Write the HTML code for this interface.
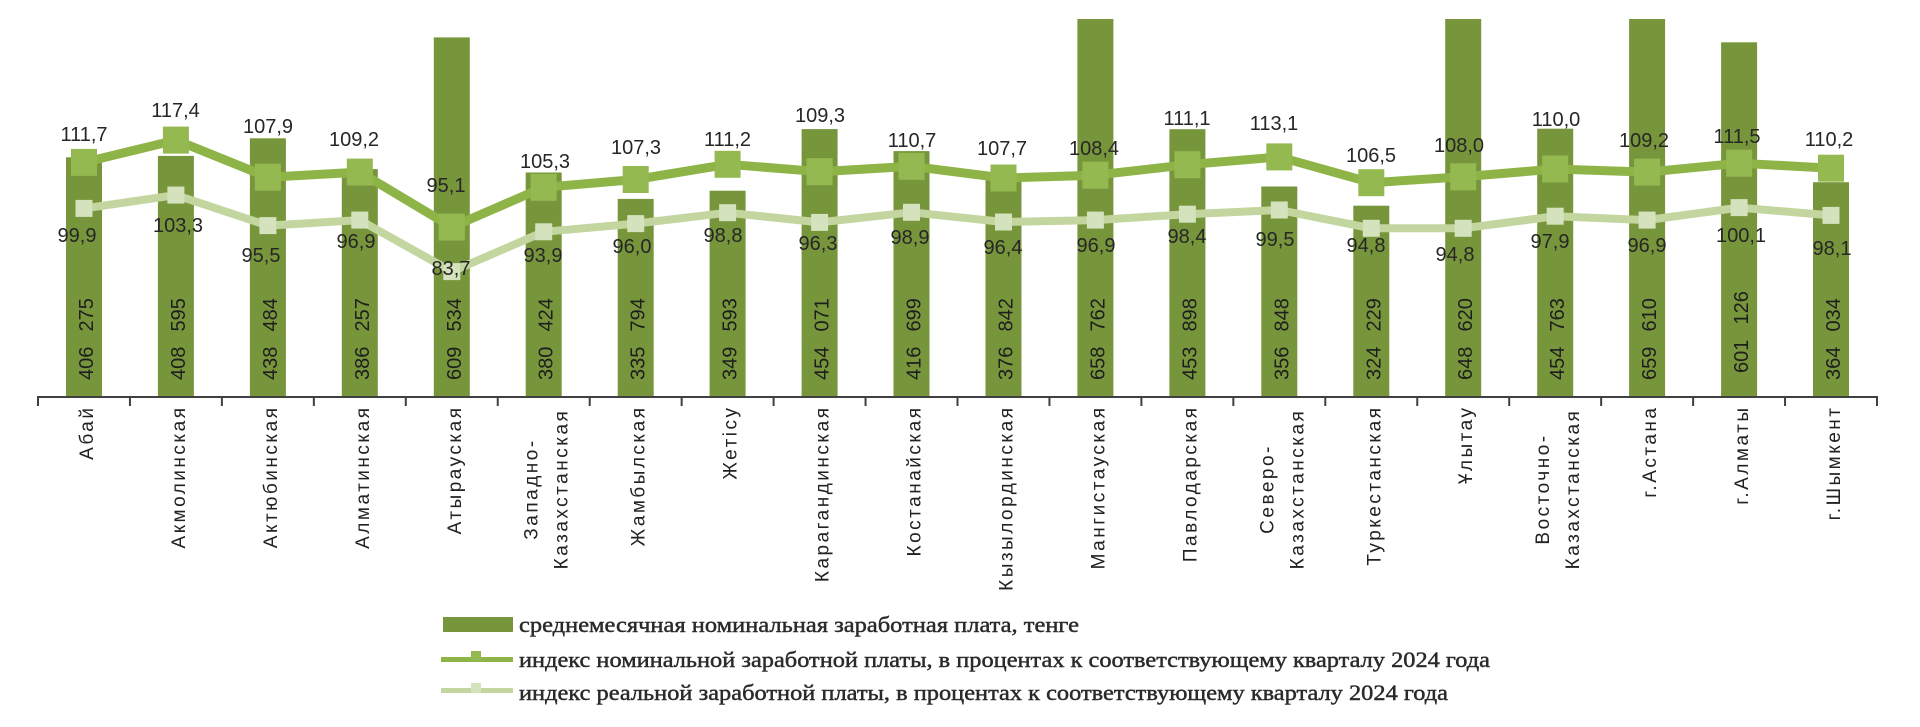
<!DOCTYPE html>
<html>
<head>
<meta charset="utf-8">
<style>
html,body{margin:0;padding:0;background:#fff;}
svg{display:block;}
.dl{font-family:"Liberation Sans",sans-serif;font-size:20px;fill:#262626;text-anchor:middle;}
.bl{font-family:"Liberation Sans",sans-serif;font-size:20px;fill:#1e1e1e;}
.xl{font-family:"Liberation Sans",sans-serif;font-size:19px;fill:#222;letter-spacing:2.5px;}
.lg{font-family:"Liberation Serif",serif;font-size:22px;fill:#2a2a2a;stroke:#2a2a2a;stroke-width:0.45px;}
</style>
</head>
<body>
<svg width="1920" height="727" viewBox="0 0 1920 727" xmlns="http://www.w3.org/2000/svg">
<rect width="1920" height="727" fill="#ffffff"/>

<!-- Bars -->
<g fill="#77963b">
<rect x="66.0" y="157.3" width="36" height="239.7"/>
<rect x="157.9" y="155.9" width="36" height="241.1"/>
<rect x="249.9" y="138.3" width="36" height="258.7"/>
<rect x="341.8" y="169.1" width="36" height="227.9"/>
<rect x="433.8" y="37.4" width="36" height="359.6"/>
<rect x="525.7" y="172.5" width="36" height="224.5"/>
<rect x="617.7" y="198.9" width="36" height="198.1"/>
<rect x="709.6" y="190.7" width="36" height="206.3"/>
<rect x="801.6" y="129.1" width="36" height="267.9"/>
<rect x="893.5" y="151.1" width="36" height="245.9"/>
<rect x="985.5" y="174.7" width="36" height="222.3"/>
<rect x="1077.4" y="19" width="36" height="378"/>
<rect x="1169.4" y="129.2" width="36" height="267.8"/>
<rect x="1261.3" y="186.5" width="36" height="210.5"/>
<rect x="1353.3" y="205.7" width="36" height="191.3"/>
<rect x="1445.2" y="19" width="36" height="378"/>
<rect x="1537.2" y="128.7" width="36" height="268.3"/>
<rect x="1629.1" y="19" width="36" height="378"/>
<rect x="1721.1" y="42.3" width="36" height="354.7"/>
<rect x="1813.0" y="182.2" width="36" height="214.8"/>
</g>

<!-- Axis -->
<g stroke="#404040" stroke-width="2">
<line x1="37" y1="397" x2="1878" y2="397"/>
<line x1="38" y1="397" x2="38" y2="406"/>
<line x1="129.95" y1="397" x2="129.95" y2="406"/>
<line x1="221.9" y1="397" x2="221.9" y2="406"/>
<line x1="313.85" y1="397" x2="313.85" y2="406"/>
<line x1="405.8" y1="397" x2="405.8" y2="406"/>
<line x1="497.75" y1="397" x2="497.75" y2="406"/>
<line x1="589.7" y1="397" x2="589.7" y2="406"/>
<line x1="681.65" y1="397" x2="681.65" y2="406"/>
<line x1="773.6" y1="397" x2="773.6" y2="406"/>
<line x1="865.55" y1="397" x2="865.55" y2="406"/>
<line x1="957.5" y1="397" x2="957.5" y2="406"/>
<line x1="1049.45" y1="397" x2="1049.45" y2="406"/>
<line x1="1141.4" y1="397" x2="1141.4" y2="406"/>
<line x1="1233.35" y1="397" x2="1233.35" y2="406"/>
<line x1="1325.3" y1="397" x2="1325.3" y2="406"/>
<line x1="1417.25" y1="397" x2="1417.25" y2="406"/>
<line x1="1509.2" y1="397" x2="1509.2" y2="406"/>
<line x1="1601.15" y1="397" x2="1601.15" y2="406"/>
<line x1="1693.1" y1="397" x2="1693.1" y2="406"/>
<line x1="1785.05" y1="397" x2="1785.05" y2="406"/>
<line x1="1877" y1="397" x2="1877" y2="406"/>
</g>

<!-- Bar value labels (rotated) -->
<g class="bl">
<text transform="translate(93,380) rotate(-90)"><tspan x="0">406</tspan><tspan x="48.5">275</tspan></text>
<text transform="translate(184.9,380) rotate(-90)"><tspan x="0">408</tspan><tspan x="48.5">595</tspan></text>
<text transform="translate(276.9,380) rotate(-90)"><tspan x="0">438</tspan><tspan x="48.5">484</tspan></text>
<text transform="translate(368.8,380) rotate(-90)"><tspan x="0">386</tspan><tspan x="48.5">257</tspan></text>
<text transform="translate(460.8,380) rotate(-90)"><tspan x="0">609</tspan><tspan x="48.5">534</tspan></text>
<text transform="translate(552.7,380) rotate(-90)"><tspan x="0">380</tspan><tspan x="48.5">424</tspan></text>
<text transform="translate(644.7,380) rotate(-90)"><tspan x="0">335</tspan><tspan x="48.5">794</tspan></text>
<text transform="translate(736.6,380) rotate(-90)"><tspan x="0">349</tspan><tspan x="48.5">593</tspan></text>
<text transform="translate(828.6,380) rotate(-90)"><tspan x="0">454</tspan><tspan x="48.5">071</tspan></text>
<text transform="translate(920.5,380) rotate(-90)"><tspan x="0">416</tspan><tspan x="48.5">699</tspan></text>
<text transform="translate(1012.5,380) rotate(-90)"><tspan x="0">376</tspan><tspan x="48.5">842</tspan></text>
<text transform="translate(1104.4,380) rotate(-90)"><tspan x="0">658</tspan><tspan x="48.5">762</tspan></text>
<text transform="translate(1196.4,380) rotate(-90)"><tspan x="0">453</tspan><tspan x="48.5">898</tspan></text>
<text transform="translate(1288.3,380) rotate(-90)"><tspan x="0">356</tspan><tspan x="48.5">848</tspan></text>
<text transform="translate(1380.3,380) rotate(-90)"><tspan x="0">324</tspan><tspan x="48.5">229</tspan></text>
<text transform="translate(1472.2,380) rotate(-90)"><tspan x="0">648</tspan><tspan x="48.5">620</tspan></text>
<text transform="translate(1564.2,380) rotate(-90)"><tspan x="0">454</tspan><tspan x="48.5">763</tspan></text>
<text transform="translate(1656.1,380) rotate(-90)"><tspan x="0">659</tspan><tspan x="48.5">610</tspan></text>
<text transform="translate(1748.1,373) rotate(-90)"><tspan x="0">601</tspan><tspan x="48.5">126</tspan></text>
<text transform="translate(1840.0,380) rotate(-90)"><tspan x="0">364</tspan><tspan x="48.5">034</tspan></text>
</g>

<!-- Nominal index line -->
<polyline fill="none" stroke="#8eb448" stroke-width="9" stroke-linejoin="round" points="84.0,162.4 175.9,140.1 267.9,177.2 359.8,172.1 451.8,227.1 543.7,187.3 635.7,179.5 727.6,164.3 819.6,171.7 911.5,166.3 1003.5,178.0 1095.4,175.2 1187.4,164.7 1279.3,156.9 1371.3,182.7 1463.2,176.8 1555.2,169.0 1647.1,172.1 1739.1,163.2 1831.0,168.2"/>
<g fill="#94b950">
<rect x="71.0" y="148.9" width="26" height="27"/>
<rect x="162.9" y="126.6" width="26" height="27"/>
<rect x="254.9" y="163.7" width="26" height="27"/>
<rect x="346.8" y="158.6" width="26" height="27"/>
<rect x="438.8" y="213.6" width="26" height="27"/>
<rect x="530.7" y="173.8" width="26" height="27"/>
<rect x="622.7" y="166.0" width="26" height="27"/>
<rect x="714.6" y="150.8" width="26" height="27"/>
<rect x="806.6" y="158.2" width="26" height="27"/>
<rect x="898.5" y="152.8" width="26" height="27"/>
<rect x="990.5" y="164.5" width="26" height="27"/>
<rect x="1082.4" y="161.7" width="26" height="27"/>
<rect x="1174.4" y="151.2" width="26" height="27"/>
<rect x="1266.3" y="143.4" width="26" height="27"/>
<rect x="1358.3" y="169.2" width="26" height="27"/>
<rect x="1450.2" y="163.3" width="26" height="27"/>
<rect x="1542.2" y="155.5" width="26" height="27"/>
<rect x="1634.1" y="158.6" width="26" height="27"/>
<rect x="1726.1" y="149.7" width="26" height="27"/>
<rect x="1818.0" y="154.7" width="26" height="27"/>
</g>

<!-- Real index line -->
<polyline fill="none" stroke="#c4d6a0" stroke-width="8" stroke-linejoin="round" points="84.0,208.4 175.9,195.1 267.9,225.6 359.8,220.1 451.8,271.6 543.7,231.8 635.7,223.6 727.6,212.7 819.6,222.4 911.5,212.3 1003.5,222.0 1095.4,220.1 1187.4,214.2 1279.3,210.0 1371.3,228.3 1463.2,228.3 1555.2,216.2 1647.1,220.1 1739.1,207.6 1831.0,215.4"/>
<g fill="#d4e2be">
<rect x="75.5" y="199.9" width="17" height="17"/>
<rect x="167.4" y="186.6" width="17" height="17"/>
<rect x="259.4" y="217.1" width="17" height="17"/>
<rect x="351.3" y="211.6" width="17" height="17"/>
<rect x="443.3" y="263.1" width="17" height="17"/>
<rect x="535.2" y="223.3" width="17" height="17"/>
<rect x="627.2" y="215.1" width="17" height="17"/>
<rect x="719.1" y="204.2" width="17" height="17"/>
<rect x="811.1" y="213.9" width="17" height="17"/>
<rect x="903.0" y="203.8" width="17" height="17"/>
<rect x="995.0" y="213.5" width="17" height="17"/>
<rect x="1086.9" y="211.6" width="17" height="17"/>
<rect x="1178.9" y="205.7" width="17" height="17"/>
<rect x="1270.8" y="201.5" width="17" height="17"/>
<rect x="1362.8" y="219.8" width="17" height="17"/>
<rect x="1454.7" y="219.8" width="17" height="17"/>
<rect x="1546.7" y="207.7" width="17" height="17"/>
<rect x="1638.6" y="211.6" width="17" height="17"/>
<rect x="1730.6" y="199.1" width="17" height="17"/>
<rect x="1822.5" y="206.9" width="17" height="17"/>
</g>

<!-- Nominal labels -->
<g class="dl">
<text x="84" y="141">111,7</text>
<text x="175.5" y="117">117,4</text>
<text x="268" y="133">107,9</text>
<text x="354" y="146">109,2</text>
<text x="446" y="192">95,1</text>
<text x="545" y="168">105,3</text>
<text x="636" y="154">107,3</text>
<text x="727.5" y="146">111,2</text>
<text x="820" y="122">109,3</text>
<text x="912" y="147">110,7</text>
<text x="1002" y="155">107,7</text>
<text x="1094" y="155">108,4</text>
<text x="1187" y="125">111,1</text>
<text x="1274" y="130">113,1</text>
<text x="1371" y="162">106,5</text>
<text x="1459" y="152">108,0</text>
<text x="1556" y="126">110,0</text>
<text x="1644" y="147">109,2</text>
<text x="1737" y="143">111,5</text>
<text x="1829" y="146">110,2</text>
</g>

<!-- Real labels -->
<g class="dl">
<text x="77" y="242">99,9</text>
<text x="178" y="232">103,3</text>
<text x="261" y="262">95,5</text>
<text x="356" y="248">96,9</text>
<text x="451" y="275">83,7</text>
<text x="543" y="262">93,9</text>
<text x="632" y="253">96,0</text>
<text x="723" y="242">98,8</text>
<text x="818" y="250">96,3</text>
<text x="910" y="244">98,9</text>
<text x="1003" y="254">96,4</text>
<text x="1096" y="252">96,9</text>
<text x="1187" y="243">98,4</text>
<text x="1275" y="246">99,5</text>
<text x="1366" y="252">94,8</text>
<text x="1455" y="261">94,8</text>
<text x="1550" y="248">97,9</text>
<text x="1647" y="252">96,9</text>
<text x="1741" y="242">100,1</text>
<text x="1832" y="255">98,1</text>
</g>

<!-- Category labels -->
<g class="xl" text-anchor="end">
<text transform="translate(93.0,405.5) rotate(-90)">Абай</text>
<text transform="translate(184.9,405.5) rotate(-90)">Акмолинская</text>
<text transform="translate(276.9,405.5) rotate(-90)">Актюбинская</text>
<text transform="translate(368.8,405.5) rotate(-90)">Алматинская</text>
<text transform="translate(460.8,405.5) rotate(-90)">Атырауская</text>
<text transform="translate(644.7,405.5) rotate(-90)">Жамбылская</text>
<text transform="translate(736.6,405.5) rotate(-90)">Жетісу</text>
<text transform="translate(828.6,405.5) rotate(-90)">Карагандинская</text>
<text transform="translate(920.5,405.5) rotate(-90)">Костанайская</text>
<text transform="translate(1012.5,405.5) rotate(-90)">Кызылординская</text>
<text transform="translate(1104.4,405.5) rotate(-90)">Мангистауская</text>
<text transform="translate(1196.4,405.5) rotate(-90)">Павлодарская</text>
<text transform="translate(1380.3,405.5) rotate(-90)">Туркестанская</text>
<text transform="translate(1472.2,405.5) rotate(-90)">Ұлытау</text>
<text transform="translate(1656.1,405.5) rotate(-90)">г.Астана</text>
<text transform="translate(1748.1,405.5) rotate(-90)">г.Алматы</text>
<text transform="translate(1840.0,405.5) rotate(-90)">г.Шымкент</text>
</g>
<g class="xl" text-anchor="middle">
<text transform="translate(537.7,489) rotate(-90)">Западно-</text>
<text transform="translate(567.7,489) rotate(-90)">Казахстанская</text>
<text transform="translate(1273.3,489) rotate(-90)">Северо-</text>
<text transform="translate(1303.3,489) rotate(-90)">Казахстанская</text>
<text transform="translate(1549.2,489) rotate(-90)">Восточно-</text>
<text transform="translate(1579.2,489) rotate(-90)">Казахстанская</text>
</g>

<!-- Legend -->
<rect x="443" y="617" width="70" height="15" fill="#77963b"/>
<line x1="441" y1="659.5" x2="513" y2="659.5" stroke="#8eb448" stroke-width="5"/>
<rect x="471" y="651" width="10" height="10" fill="#94b950"/>
<line x1="441" y1="690.5" x2="513" y2="690.5" stroke="#c4d6a0" stroke-width="5"/>
<rect x="471" y="683" width="10" height="10" fill="#d4e2be"/>
<text class="lg" x="519" y="632" textLength="560" lengthAdjust="spacingAndGlyphs">среднемесячная номинальная заработная плата, тенге</text>
<text class="lg" x="519" y="667" textLength="971" lengthAdjust="spacingAndGlyphs">индекс номинальной заработной платы, в процентах к соответствующему  кварталу 2024  года</text>
<text class="lg" x="519" y="700" textLength="929" lengthAdjust="spacingAndGlyphs">индекс реальной заработной платы, в процентах к соответствующему  кварталу 2024  года</text>
</svg>
</body>
</html>
